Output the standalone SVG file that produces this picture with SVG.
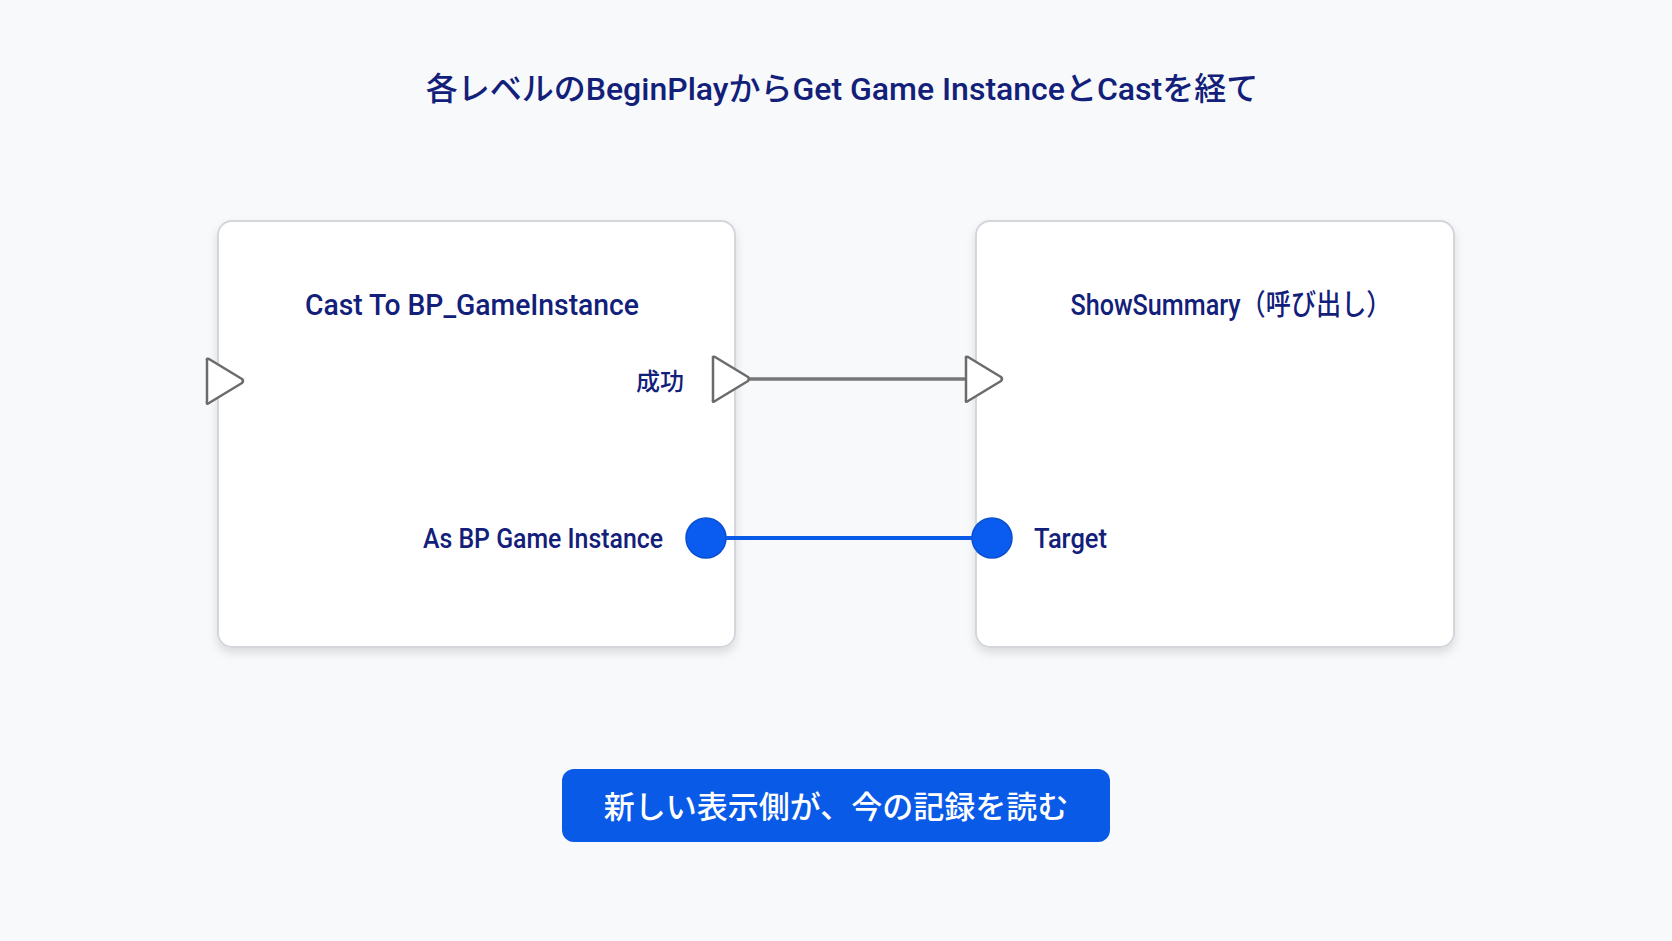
<svg xmlns="http://www.w3.org/2000/svg" width="1672" height="941" viewBox="0 0 1672 941">
<defs>
<style>
.t{font-family:Roboto,"Noto Sans CJK JP",sans-serif;fill:#12207a;font-weight:500}
.box{fill:#ffffff;stroke:#d4d6dc;stroke-width:2}
.exec{fill:#ffffff;stroke:#6b6b6b;stroke-width:2.5;stroke-linejoin:round}
.dot{fill:#0a5cf0;stroke:#0a4fd0;stroke-width:1.5}
</style>
<filter id="sh" x="-10%" y="-10%" width="120%" height="125%"><feDropShadow dx="0" dy="5" stdDeviation="5" flood-color="#000" flood-opacity="0.12"/></filter>
</defs>
<rect width="1672" height="941" fill="#f8f9fa"/>
<text class="t" x="842" y="100" font-size="32" text-anchor="middle">各レベルのBeginPlayからGet Game InstanceとCastを経て</text>
<g id="node-cast">
<rect class="box" x="218" y="221" width="517" height="426" rx="14" filter="url(#sh)"/>
<text class="t" x="472" y="315" font-size="29" text-anchor="middle" textLength="334" lengthAdjust="spacingAndGlyphs">Cast To BP_GameInstance</text>
<path class="exec" d="M207 360 Q206 358 209 359 L242 379 Q244 381 242 383 L209 403 Q206 405 207 401 Z"/>
<text class="t" x="684" y="390" font-size="24" text-anchor="end">成功</text>
<path class="exec" d="M713 358 Q712 356 715 357 L748 377 Q750 379 748 381 L715 401 Q712 403 713 399 Z"/>
<text class="t" x="663" y="548" font-size="27" text-anchor="end" textLength="240" lengthAdjust="spacingAndGlyphs">As BP Game Instance</text>
<circle class="dot" cx="706" cy="538" r="20"/>
</g>
<g id="node-show">
<rect class="box" x="976" y="221" width="478" height="426" rx="14" filter="url(#sh)"/>
<text class="t" x="1231" y="315" font-size="29" text-anchor="middle" textLength="321" lengthAdjust="spacingAndGlyphs">ShowSummary（呼び出し）</text>
<path class="exec" d="M966 358 Q965 356 968 357 L1001 377 Q1003 379 1001 381 L968 401 Q965 403 966 399 Z"/>
<circle class="dot" cx="992" cy="538" r="20"/>
<text class="t" x="1034" y="548" font-size="27" textLength="73" lengthAdjust="spacingAndGlyphs">Target</text>
</g>
<g id="connectors">
<line x1="750" y1="379" x2="965" y2="379" stroke="#777" stroke-width="3.5"/>
<line x1="726" y1="538" x2="972" y2="538" stroke="#0a5ae8" stroke-width="4"/>
</g>
<g id="note">
<rect x="562" y="769" width="548" height="73" rx="12" fill="#0a5ae8"/>
<text x="836" y="818" font-size="31" text-anchor="middle" fill="#fff" font-family="Roboto,'Noto Sans CJK JP',sans-serif" font-weight="500">新しい表示側が、今の記録を読む</text>
</g>
</svg>
